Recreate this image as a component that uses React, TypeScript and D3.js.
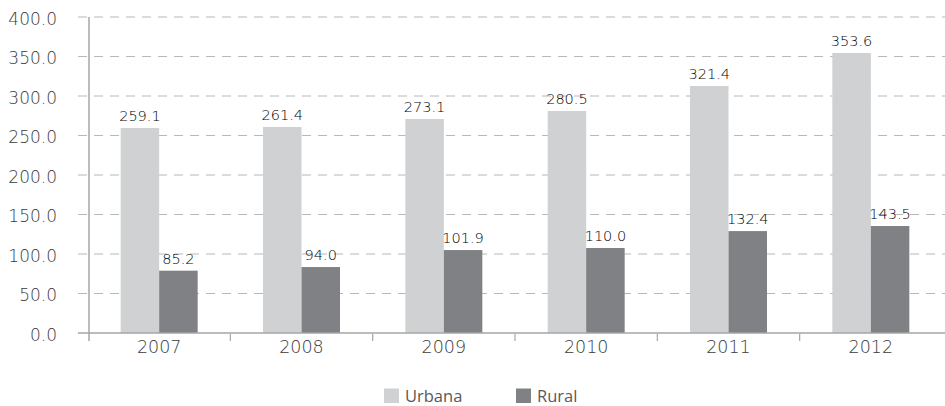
import { useMemo } from "react";
import * as d3 from "d3";

const years = ["2007", "2008", "2009", "2010", "2011", "2012"];
// bar heights as drawn in the picture
const urbana = [259.5, 260.8, 270.9, 281.0, 312.7, 354.4];
const rural = [78.9, 83.5, 105.0, 107.6, 129.0, 135.4];
// printed data labels
const urbanaLabels = ["259.1", "261.4", "273.1", "280.5", "321.4", "353.6"];
const ruralLabels = ["85.2", "94.0", "101.9", "110.0", "132.4", "143.5"];
const yTicks = [0, 50, 100, 150, 200, 250, 300, 350, 400];
const seriesNames = ["Urbana", "Rural"];

const colors = ["#d0d1d3", "#808184"];
const font = "'DejaVu Sans ExtraLight', 'DejaVu Sans', sans-serif";

function App() {
  const width = 945;
  const height = 406;

  const x = useMemo(
    () => d3.scaleBand().domain(years).range([88, 942]).paddingInner(0).paddingOuter(0),
    []
  );
  const y = useMemo(() => d3.scaleLinear().domain([0, 400]).range([333, 17]), []);
  const barW = 38.5;

  const series = [
    { name: seriesNames[0], values: urbana, labels: urbanaLabels, color: colors[0], off: -barW },
    { name: seriesNames[1], values: rural, labels: ruralLabels, color: colors[1], off: 0 },
  ];

  const boundaries = years.map((yr) => x(yr)!);

  return (
    <svg
      width={width}
      height={height}
      style={{ position: "absolute", left: 0, top: 0, background: "#fff" }}
    >
      {/* gridlines */}
      {yTicks.map((t) =>
        t === 0 ? null : (
          <line
            key={"g" + t}
            x1={78}
            x2={width}
            y1={y(t)}
            y2={y(t)}
            stroke="#b8b8b8"
            strokeWidth={1}
            strokeDasharray="9,7"
          />
        )
      )}
      {/* y tick labels */}
      {yTicks.map((t) => (
        <text
          key={"yl" + t}
          x={57}
          y={y(t) + 7.5}
          textAnchor="end"
          fontFamily={font}
          fontWeight={300}
          fontSize={17}
          fill="#3a3a3a"
        >
          {d3.format(".1f")(t)}
        </text>
      ))}
      {/* bars */}
      {series.map((s) =>
        years.map((yr, i) => {
          const cx = x(yr)! + x.bandwidth() / 2;
          return (
            <rect
              key={s.name + yr}
              x={cx + s.off}
              y={y(s.values[i])}
              width={barW}
              height={y(0) - y(s.values[i])}
              fill={s.color}
            />
          );
        })
      )}
      {/* data labels */}
      {series.map((s) =>
        years.map((yr, i) => {
          const cx = x(yr)! + x.bandwidth() / 2 + s.off + barW / 2;
          return (
            <text
              key={"l" + s.name + yr}
              x={cx}
              y={y(s.values[i]) - 7}
              textAnchor="middle"
              fontFamily={font}
              fontWeight={300}
              fontSize={14.5}
              fill="#000"
            >
              {s.labels[i]}
            </text>
          );
        })
      )}
      {/* axes */}
      <line x1={78} x2={width} y1={y(0)} y2={y(0)} stroke="#a6a6a6" strokeWidth={1.5} />
      <line x1={89} x2={89} y1={y(400)} y2={341} stroke="#a6a6a6" strokeWidth={1.5} />
      {boundaries.slice(1).map((b, i) => (
        <line key={"t" + i} x1={b} x2={b} y1={334} y2={341} stroke="#a6a6a6" strokeWidth={1.2} />
      ))}
      {years.map((yr) => (
        <text
          key={"x" + yr}
          x={x(yr)! + x.bandwidth() / 2}
          y={353}
          textAnchor="middle"
          fontFamily={font}
          fontWeight={300}
          fontSize={17.5}
          fill="#3a3a3a"
        >
          {yr}
        </text>
      ))}
      {/* legend */}
      {series.map((s, i) => {
        const lx = i === 0 ? 384 : 516;
        return (
          <g key={"leg" + s.name}>
            <rect x={lx} y={388.5} width={15} height={14.5} fill={s.color} />
            <text
              x={lx + 21}
              y={401.5}
              fontFamily="Open Sans"
              fontSize={16.5}
              fill="#595959"
            >
              {s.name}
            </text>
          </g>
        );
      })}
    </svg>
  );
}

export default App;
